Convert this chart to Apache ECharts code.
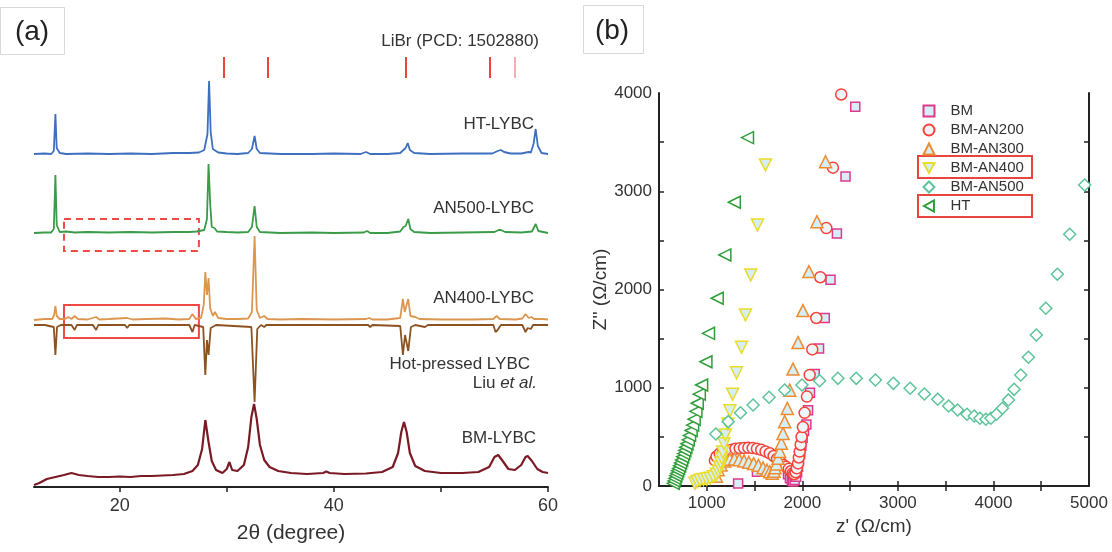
<!DOCTYPE html>
<html><head><meta charset="utf-8">
<script src="https://cdn.jsdelivr.net/npm/echarts@6/dist/echarts.min.js"></script>
<style>html,body{margin:0;padding:0;background:#fff}#c{width:1112px;height:552px}</style>
</head><body><div id="c"></div>
<script>
// ---------- Panel (a): XRD patterns, [2theta, intensity (a.u.)] ----------
const LIBR_REF = [29.76, 33.87, 46.67, 54.52, 56.86];
const XRD_HT = [[12,0],[13,0.5],[13.6,0],[13.85,3],[14.0,40],[14.12,6],[14.4,1],[15,0],[17,0.5],[19,0],[21,0.5],[23,0],[25,1],[26.5,1],[27.4,1.5],[27.9,4],[28.2,20],[28.35,73],[28.5,22],[28.7,5],[29.2,1.5],[30,0.5],[31,0],[32,1],[32.35,5],[32.6,18],[32.8,5],[33.1,1],[35,0],[38,0],[40,0.5],[42.5,0],[43.0,2],[43.4,0],[45,0],[46.2,1],[46.5,4],[46.7,6],[46.9,11],[47.1,4],[47.5,1],[49,0],[52,0.5],[54.8,0.5],[55.3,3],[55.6,4],[55.9,2],[56.5,0.5],[57.5,0.5],[58.2,2],[58.4,1.5],[58.65,10],[58.85,25],[59.05,8],[59.4,1],[60,0]];
const XRD_AN500 = [[12,0],[13,0.5],[13.6,0.5],[13.85,4],[14.0,58],[14.12,8],[14.4,1],[15,1.5],[15.8,0.5],[17,1],[19,0.5],[21,1],[23,0.5],[25,1],[26.5,1],[27.2,1.5],[27.9,3],[28.15,14],[28.3,69],[28.45,30],[28.6,6],[28.85,5],[29.1,1.5],[30,1],[31,0.5],[32,1],[32.35,6],[32.6,27],[32.8,6],[33.1,1],[35,0],[38,0.5],[40,0],[42.8,0.5],[43.1,2],[43.4,0],[45,0],[46.2,1.5],[46.5,6],[46.7,7],[46.95,14],[47.15,4],[47.5,1],[49,0],[52,0.5],[55,1],[55.4,3],[55.6,3],[56,1],[57.5,0.5],[58.5,1.5],[58.85,9],[59.1,2],[60,0]];
const XRD_AN400 = [[12,0],[13,1],[13.7,1],[13.88,5],[14.0,14],[14.12,4],[14.4,1],[14.9,1],[15.2,3],[15.5,1],[15.8,4],[16.1,1],[17,0.5],[17.8,3],[18.1,0.5],[19,1],[20.7,2],[21.2,0.5],[22.5,1],[24.3,1.5],[25.5,0.5],[26.5,1],[26.8,6],[27.1,1],[27.6,2],[27.85,15],[28.0,48],[28.15,25],[28.3,42],[28.45,12],[28.7,4],[28.9,8],[29.2,2],[30,1],[31,1],[32,1.5],[32.35,8],[32.6,84],[32.8,10],[33.1,2],[33.5,4],[33.8,1],[35,0.5],[37,1],[40,0.5],[43,1],[43.3,2],[43.6,0.5],[45,0.5],[46.2,2],[46.45,21],[46.62,8],[46.95,21],[47.15,4],[47.6,3],[48,1],[50,0.5],[53,0.5],[54.9,1],[55.2,4],[55.5,1],[57,0.5],[57.6,1.5],[57.9,6],[58.2,2],[58.45,3],[58.7,1],[59.5,1],[60,0.5]];
const XRD_HOTPRESSED = [[12,0],[13,0],[13.85,2],[14.0,30],[14.15,2],[14.5,0],[15.5,0],[15.8,5],[16.0,0],[17.5,0],[17.8,5],[18.0,0],[20.5,0],[20.7,3],[20.9,0],[26.5,0],[26.8,7],[27.0,0],[27.8,2],[28.0,50],[28.15,15],[28.3,30],[28.5,3],[29,0],[32.3,2],[32.6,77],[32.85,4],[33.2,0],[33.5,2],[33.7,0],[43.2,0],[43.4,2],[43.6,0],[46.2,1],[46.45,30],[46.65,10],[46.95,26],[47.2,2],[47.6,0],[48.5,2],[48.8,0],[54.9,0],[55.1,7],[55.3,5],[55.6,0],[57.6,0],[57.9,7],[58.1,3],[58.4,4],[58.6,0],[60,0]];
const XRD_BM = [[12,2],[12.5,4],[13.2,8],[14,10],[14.8,12],[15.5,14],[16.2,12],[17,11],[18,10],[19,10],[20,10.5],[21,10],[22,11],[23,11],[24,11.5],[25,12],[26,13],[26.8,16],[27.3,22],[27.7,38],[28.0,67],[28.3,45],[28.6,26],[29,17],[29.6,14],[30.0,18],[30.25,25],[30.5,17],[31,16],[31.6,22],[32.0,40],[32.3,70],[32.55,83],[32.8,68],[33.1,42],[33.5,27],[34,20],[34.8,16],[36,14],[37.5,13],[39,14],[39.3,15.5],[39.6,14],[41,13],[43,13.5],[44.5,15],[45.5,20],[46.0,34],[46.3,55],[46.55,65],[46.8,55],[47.1,34],[47.6,21],[48.5,16],[50,14],[52,14],[53.5,15],[54.5,20],[55.0,30],[55.35,32],[55.7,27],[56.3,18],[56.9,17],[57.5,22],[57.9,30],[58.1,31],[58.5,26],[59.0,18],[59.5,15],[60,14]];
const XRD_LABELS = ['LiBr (PCD: 1502880)','HT-LYBC','AN500-LYBC','AN400-LYBC','Hot-pressed LYBC','Liu','et al.','BM-LYBC'];
const XA_TICKS = [20, 40, 60];

// ---------- Panel (b): Nyquist data, [Z', Z''] ----------
const EIS_NAMES = ['BM','BM-AN200','BM-AN300','BM-AN400','BM-AN500','HT'];
const EIS_BM = [[1328,25],[1525,145],[1850,120],[1870,80],[1890,55],[1905,45],[1920,60],[1935,95],[1945,140],[1955,195],[1965,260],[1978,330],[1990,410],[2003,490],[2018,560],[2042,625],[2060,770],[2080,950],[2130,1140],[2175,1400],[2235,1710],[2295,2100],[2362,2570],[2452,3150],[2554,3860]];
const EIS_AN200 = [[1085,260],[1102,300],[1135,330],[1171,350],[1215,360],[1259,368],[1300,378],[1345,385],[1390,388],[1435,390],[1480,386],[1525,380],[1570,368],[1615,352],[1659,333],[1700,305],[1735,275],[1770,245],[1800,215],[1830,195],[1858,175],[1880,150],[1900,130],[1915,120],[1930,140],[1942,180],[1955,230],[1963,290],[1972,350],[1982,420],[1992,500],[2006,600],[2024,745],[2048,910],[2077,1130],[2104,1390],[2146,1710],[2188,2125],[2251,2625],[2320,3240],[2407,3985]];
const EIS_AN300 = [[1100,100],[1119,165],[1150,215],[1189,255],[1241,272],[1290,275],[1340,268],[1390,255],[1440,242],[1490,228],[1540,210],[1589,185],[1630,160],[1660,145],[1685,130],[1705,150],[1715,185],[1729,225],[1746,282],[1763,350],[1781,435],[1798,535],[1815,655],[1843,790],[1868,975],[1902,1190],[1955,1460],[2006,1785],[2069,2182],[2153,2690],[2243,3300]];
const EIS_AN400 = [[876,28],[900,45],[930,58],[965,65],[1000,70],[1035,80],[1070,95],[1100,120],[1122,150],[1137,190],[1148,235],[1158,285],[1168,345],[1180,430],[1195,520],[1220,630],[1242,765],[1270,935],[1311,1153],[1363,1412],[1405,1741],[1460,2148],[1530,2657],[1614,3268]];
const EIS_AN500 = [[1095,529],[1224,655],[1353,746],[1485,825],[1652,903],[1815,977],[1996,1028],[2181,1072],[2372,1096],[2564,1096],[2765,1079],[2953,1045],[3128,995],[3277,937],[3417,883],[3531,814],[3625,774],[3723,730],[3799,713],[3858,689],[3921,679],[3973,689],[4032,730],[4094,791],[4157,876],[4216,984],[4286,1130],[4366,1310],[4449,1537],[4548,1809],[4669,2155],[4798,2562],[4955,3064]];
const EIS_HT = [[649,27],[658,52],[667,78],[676,104],[686,129],[695,155],[705,180],[716,206],[726,235],[737,265],[748,298],[759,330],[770,362],[781,395],[793,430],[806,470],[820,515],[836,565],[852,620],[868,680],[886,760],[900,842],[922,935],[946,1028],[991,1265],[1018,1554],[1109,1911],[1189,2352],[1288,2888],[1426,3546]];
const XB_LABELS = [1000, 2000, 3000, 4000, 5000];
const XB_TICKS = [1000,1500,2000,2500,3000,3500,4000,4500];
const YB_TICKS = [500,1000,1500,2000,2500,3000,3500];

// ---------- presentation ----------
const FONT = '"Liberation Sans", Arial, Helvetica, sans-serif';
const TXT = '#333';
const OFF = {HT: 333, AN500: 254, AN400: 167, HP: 162, BM: 0};
const up = (arr, o) => arr.map(p => [p[0], o + p[1]]);
const down = (arr, o) => arr.map(p => [p[0], o - p[1]]);
const plain = v => String(v);

const chart = echarts.init(document.getElementById('c'), null, {renderer: 'canvas'});

function xrdLine(name, data, color, w) {
  return {name, type: 'line', xAxisIndex: 0, yAxisIndex: 0, data, showSymbol: false, symbol: 'none',
    silent: true, lineStyle: {color, width: w || 1.8}, z: 3};
}
function eis(name, data, symbol, size, stroke, fill, rot) {
  return {name, type: 'scatter', xAxisIndex: 1, yAxisIndex: 1, data, symbol, symbolSize: size,
    symbolRotate: rot || 0, itemStyle: {color: fill, borderColor: stroke, borderWidth: 1.5, opacity: 1}, z: 4};
}

const refLines = LIBR_REF.map((x, i) => [{coord: [x, 430], lineStyle: {color: i === 4 ? '#f4b0b0' : '#e8453c', width: 2, type: 'solid'}}, {coord: [x, 409]}]);

const series = [
  Object.assign(xrdLine('HT-LYBC', up(XRD_HT, OFF.HT), '#3f6fbf'), {
    markLine: {silent: true, symbol: 'none', label: {show: false}, data: refLines}
  }),
  Object.assign(xrdLine('AN500-LYBC', up(XRD_AN500, OFF.AN500), '#3a9b48'), {
    markArea: {silent: true, itemStyle: {color: 'rgba(0,0,0,0)', borderColor: '#ef4a43', borderWidth: 2, borderType: [7, 5]},
      data: [[{coord: [14.8, 268]}, {coord: [27.4, 236]}]]}
  }),
  Object.assign(xrdLine('AN400-LYBC', up(XRD_AN400, OFF.AN400), '#dc9650'), {
    markArea: {silent: true, itemStyle: {color: 'rgba(0,0,0,0)', borderColor: '#ef4a43', borderWidth: 2},
      data: [[{coord: [14.8, 182]}, {coord: [27.4, 149]}]]}
  }),
  xrdLine('Hot-pressed LYBC', down(XRD_HOTPRESSED, OFF.HP), '#8c5220'),
  xrdLine('BM-LYBC', up(XRD_BM, OFF.BM), '#7b1a24', 2.2),
  eis(EIS_NAMES[0], EIS_BM, 'rect', 9, '#e0388c', '#d6eef6'),
  eis(EIS_NAMES[1], EIS_AN200, 'circle', 11, '#f5423a', '#eef6f9'),
  eis(EIS_NAMES[2], EIS_AN300, 'triangle', 12, '#f08c30', '#d6eef6'),
  eis(EIS_NAMES[3], EIS_AN400, 'triangle', 12, '#e9dc2a', '#d6eef6', 180),
  eis(EIS_NAMES[4], EIS_AN500, 'diamond', 12, '#5cc49a', '#ffffff'),
  eis(EIS_NAMES[5], EIS_HT, 'triangle', 12, '#2f9e3a', '#ffffff', 90)
];

const LEGEND_ICONS = ['rect', 'circle', 'triangle', 'path://M0,0L10,0L5,9Z', 'diamond', 'path://M9,0L9,10L0,5Z'];

const axisTextB = {color: TXT, fontSize: 17, fontFamily: FONT, formatter: plain};
const frameLine = {show: true, lineStyle: {color: '#222', width: 2}};

const option = {
  backgroundColor: '#fff',
  animation: false,
  textStyle: {fontFamily: FONT},
  grid: [
    {left: 34, top: 40, width: 514, height: 447},
    {left: 659, top: 93, width: 430, height: 393}
  ],
  xAxis: [
    {gridIndex: 0, type: 'value', min: 12, max: 60,
      axisLine: {show: true, lineStyle: {color: '#222', width: 2}},
      axisTick: {show: true, customValues: [20, 30, 40, 50, 60], length: 5, lineStyle: {color: '#222', width: 1.5}},
      axisLabel: {customValues: XA_TICKS, color: TXT, fontSize: 18, fontFamily: FONT, margin: 10, formatter: plain},
      splitLine: {show: false},
      name: '2θ (degree)', nameLocation: 'middle', nameGap: 36,
      nameTextStyle: {color: TXT, fontSize: 21, fontFamily: FONT}},
    {gridIndex: 1, type: 'value', min: 500, max: 5000, position: 'bottom',
      axisLine: frameLine,
      axisTick: {show: true, inside: true, customValues: XB_TICKS, length: 5, lineStyle: {color: '#222', width: 1.5}},
      axisLabel: Object.assign({customValues: XB_LABELS, margin: 9}, axisTextB),
      splitLine: {show: false},
      name: "z' (Ω/cm)", nameLocation: 'middle', nameGap: 31,
      nameTextStyle: {color: TXT, fontSize: 19, fontFamily: FONT}},
    {gridIndex: 1, type: 'value', min: 500, max: 5000, position: 'top',
      axisLine: frameLine,
      axisTick: {show: true, inside: true, customValues: XB_TICKS, length: 5, lineStyle: {color: '#222', width: 1.5}},
      axisLabel: {show: false}, splitLine: {show: false}}
  ],
  yAxis: [
    {gridIndex: 0, type: 'value', min: 0, max: 447, show: false},
    {gridIndex: 1, type: 'value', min: 0, max: 4000, interval: 1000, position: 'left',
      axisLine: frameLine,
      axisTick: {show: true, inside: true, customValues: YB_TICKS, length: 5, lineStyle: {color: '#222', width: 1.5}},
      axisLabel: Object.assign({margin: 7}, axisTextB),
      splitLine: {show: false},
      name: "Z'' (Ω/cm)", nameLocation: 'middle', nameRotate: 90, nameGap: 45,
      nameTextStyle: {color: TXT, fontSize: 19, fontFamily: FONT}},
    {gridIndex: 1, type: 'value', min: 0, max: 4000, position: 'right',
      axisLine: frameLine,
      axisTick: {show: true, inside: true, customValues: YB_TICKS, length: 5, lineStyle: {color: '#222', width: 1.5}},
      axisLabel: {show: false}, splitLine: {show: false}}
  ],
  legend: {
    data: EIS_NAMES.map((n, i) => ({name: n, icon: LEGEND_ICONS[i]})),
    orient: 'vertical', left: 922.5, top: 103.5,
    itemWidth: 11, itemHeight: 11, itemGap: 4, padding: 0,
    textStyle: {color: TXT, fontSize: 15, fontFamily: FONT, padding: [0, 0, 0, 11]},
    selectedMode: false
  },
  series,
  graphic: [
    {type: 'rect', shape: {x: 0.5, y: 7.5, width: 64, height: 47}, style: {fill: '#fff', stroke: '#d9d9d9', lineWidth: 1}, silent: true},
    {type: 'text', style: {x: 32, y: 32, text: '(a)', font: '28px ' + FONT, fill: '#222', textAlign: 'center', textVerticalAlign: 'middle'}},
    {type: 'rect', shape: {x: 583.5, y: 5.5, width: 60, height: 48}, style: {fill: '#fff', stroke: '#d9d9d9', lineWidth: 1}, silent: true},
    {type: 'text', style: {x: 612, y: 31, text: '(b)', font: '28px ' + FONT, fill: '#222', textAlign: 'center', textVerticalAlign: 'middle'}},
    {type: 'text', style: {x: 539, y: 41, text: XRD_LABELS[0], font: '17px ' + FONT, fill: TXT, textAlign: 'right', textVerticalAlign: 'middle'}},
    {type: 'text', style: {x: 534, y: 124, text: XRD_LABELS[1], font: '17px ' + FONT, fill: TXT, textAlign: 'right', textVerticalAlign: 'middle'}},
    {type: 'text', style: {x: 534, y: 208, text: XRD_LABELS[2], font: '17px ' + FONT, fill: TXT, textAlign: 'right', textVerticalAlign: 'middle'}},
    {type: 'text', style: {x: 534, y: 298, text: XRD_LABELS[3], font: '17px ' + FONT, fill: TXT, textAlign: 'right', textVerticalAlign: 'middle'}},
    {type: 'text', style: {x: 530, y: 364, text: XRD_LABELS[4], font: '17px ' + FONT, fill: TXT, textAlign: 'right', textVerticalAlign: 'middle'}},
    {type: 'text', style: {x: 537, y: 383, text: '{n|' + XRD_LABELS[5] + ' }{i|' + XRD_LABELS[6] + '}', textAlign: 'right', textVerticalAlign: 'middle',
      rich: {n: {font: '17px ' + FONT, fill: TXT}, i: {font: 'italic 17px ' + FONT, fill: TXT}}}},
    {type: 'text', style: {x: 536, y: 438, text: XRD_LABELS[7], font: '17px ' + FONT, fill: TXT, textAlign: 'right', textVerticalAlign: 'middle'}},
    {type: 'rect', shape: {x: 918, y: 156, width: 114, height: 22}, style: {fill: 'none', stroke: '#e8453c', lineWidth: 2}, silent: true},
    {type: 'rect', shape: {x: 918, y: 195, width: 114, height: 22}, style: {fill: 'none', stroke: '#e8453c', lineWidth: 2}, silent: true}
  ]
};
chart.setOption(option);
</script></body></html>
